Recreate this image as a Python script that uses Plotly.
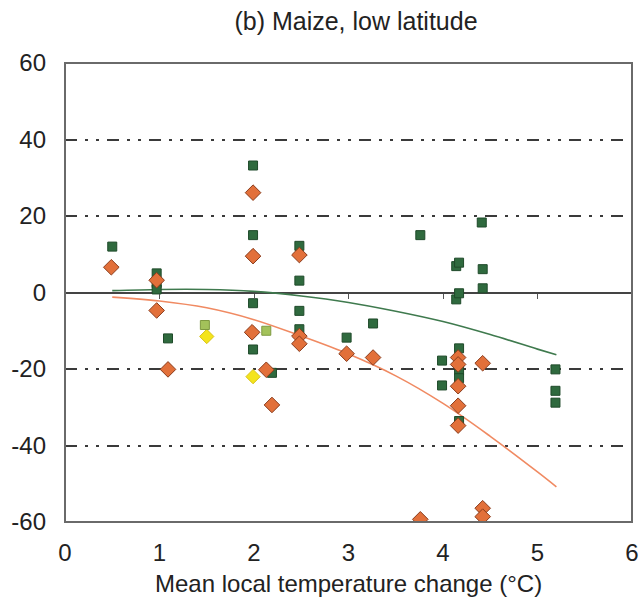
import plotly.graph_objects as go

# ---- data ----
green_x = [0.50, 0.97, 0.97, 0.97, 1.09, 1.99, 1.99, 1.99, 1.99, 2.19,
           2.48, 2.48, 2.48, 2.48, 2.98, 3.26, 3.76, 3.99, 3.99,
           4.14, 4.14, 4.17, 4.17, 4.17, 4.17, 4.17, 4.17,
           4.41, 4.42, 4.42, 5.19, 5.19, 5.19]
green_y = [12.0, 5.0, 2.5, 0.8, -12.0, 33.2, 15.0, -2.8, -14.9, -21.0,
           12.2, 3.1, -4.8, -9.6, -11.8, -8.1, 15.0, -17.8, -24.3,
           6.9, -1.8, 7.8, -0.2, -14.6, -20.3, -22.4, -33.6,
           18.3, 6.1, 1.1, -20.1, -25.7, -28.8]

orange_x = [0.49, 0.97, 0.97, 1.09, 1.99, 1.99, 1.98, 2.13, 2.19,
            2.48, 2.48, 2.48, 2.98, 3.26, 3.76,
            4.16, 4.16, 4.16, 4.16, 4.16, 4.42, 4.42, 4.42]
orange_y = [6.6, 3.2, -4.7, -20.1, 26.1, 9.5, -10.4, -20.2, -29.4,
            9.8, -11.4, -13.4, -16.0, -17.0, -59.3,
            -17.0, -18.8, -24.5, -29.6, -34.8, -18.5, -56.4, -58.6]

lightgreen_x = [1.48, 2.13]
lightgreen_y = [-8.5, -10.0]

yellow_x = [1.50, 1.99]
yellow_y = [-11.5, -22.0]

# fitted curves
curve_x = [0.5, 1.0, 1.5, 2.0, 2.5, 3.0, 3.5, 4.0, 4.5, 5.0, 5.2]
green_curve_y = [0.5, 0.8, 0.8, 0.3, -0.9, -2.6, -4.9, -7.6, -11.0, -14.8, -16.3]
orange_curve_y = [-1.2, -2.2, -4.0, -7.1, -11.4, -16.1, -21.8, -29.0, -37.6, -46.9, -50.8]

y_ticks = [-60, -40, -20, 0, 20, 40, 60]
y_tick_text = ["-60", "-40", "-20", "0", "20", "40", "60"]
x_ticks = [0, 1, 2, 3, 4, 5, 6]
x_minor_ticks = [1, 2, 3, 4, 5]
title_text = "(b) Maize, low latitude"
x_title = "Mean local temperature change (°C)"

FONT = "Liberation Sans, Arial, sans-serif"
TXT = "#222222"
FRAME = "#6a6a6a"

W, H = 640, 599
ML, MR, MT, MB = 65, 8, 63, 77
PH = H - MT - MB
PW = W - ML - MR

fig = go.Figure()

# invisible carrier so the tick axis on the zero line is drawn
fig.add_trace(go.Scatter(x=curve_x, y=green_curve_y, mode="lines", xaxis="x2",
                         line=dict(color="rgba(0,0,0,0)", width=0),
                         hoverinfo="skip", showlegend=False))

fig.add_trace(go.Scatter(x=curve_x, y=green_curve_y, mode="lines",
                         line=dict(color="#3f7a4e", width=1.6, shape="spline"),
                         hoverinfo="skip", showlegend=False))
fig.add_trace(go.Scatter(x=curve_x, y=orange_curve_y, mode="lines",
                         line=dict(color="#f08a62", width=1.6, shape="spline"),
                         hoverinfo="skip", showlegend=False))

fig.add_trace(go.Scatter(x=yellow_x, y=yellow_y, mode="markers",
                         marker=dict(symbol="diamond", size=11, color="#f4e41c",
                                     line=dict(color="#d8c21a", width=1)),
                         showlegend=False))
fig.add_trace(go.Scatter(x=lightgreen_x, y=lightgreen_y, mode="markers",
                         marker=dict(symbol="square", size=9, color="#a3c25a",
                                     line=dict(color="#7f9a40", width=1)),
                         showlegend=False))
fig.add_trace(go.Scatter(x=green_x, y=green_y, mode="markers",
                         marker=dict(symbol="square", size=9, color="#2f6a3e",
                                     line=dict(color="#1f4a2a", width=1)),
                         showlegend=False))
fig.add_trace(go.Scatter(x=orange_x, y=orange_y, mode="markers",
                         marker=dict(symbol="diamond", size=12, color="#e2703a",
                                     line=dict(color="#8a3c1c", width=1)),
                         showlegend=False))

fig.update_layout(
    width=W, height=H,
    margin=dict(l=ML, r=MR, t=MT, b=MB, autoexpand=False),
    paper_bgcolor="white", plot_bgcolor="white",
    font=dict(family=FONT, size=24, color=TXT),
    title=dict(text=title_text, x=(356 - ML) / PW, xref="paper",
               xanchor="center", y=1 - 21 / H, yref="container",
               yanchor="middle",
               font=dict(family=FONT, size=25, color=TXT)),
    xaxis=dict(range=[0, 6], tickvals=x_ticks, ticks="", showgrid=False,
               zeroline=False, showline=False, automargin=False,
               ticklabelstandoff=14, tickfont=dict(size=24, color=TXT)),
    xaxis2=dict(range=[0, 6], overlaying="x", anchor="free", position=0.5,
                side="bottom", tickvals=x_minor_ticks, ticks="outside",
                ticklen=5, tickwidth=1.2, tickcolor="#555555",
                showticklabels=False, showgrid=False, zeroline=False,
                showline=False, automargin=False),
    yaxis=dict(range=[-60, 60], tickvals=y_ticks, ticktext=y_tick_text,
               ticks="", automargin=False,
               showgrid=True, gridcolor="#3a3a3a", gridwidth=1.8,
               griddash="12px,8px,3px,8px,3px,8px",
               zeroline=True, zerolinecolor="#444444", zerolinewidth=1.5,
               showline=False,
               ticklabelstandoff=18, tickfont=dict(size=24, color=TXT)),
    annotations=[dict(text=x_title, x=0.5, xref="paper", xanchor="center",
                      y=-61 / PH, yref="paper",
                      yanchor="middle", showarrow=False,
                      font=dict(family=FONT, size=24, color=TXT))],
    shapes=[dict(type="rect", xref="paper", yref="paper", x0=0, x1=1,
                 y0=0, y1=1, line=dict(color=FRAME, width=2), layer="above")],
)

fig.write_html(
    "out.html",
    config={"displayModeBar": False},
    post_script="document.body.style.margin='0';"
                "document.body.style.overflow='hidden';",
)
